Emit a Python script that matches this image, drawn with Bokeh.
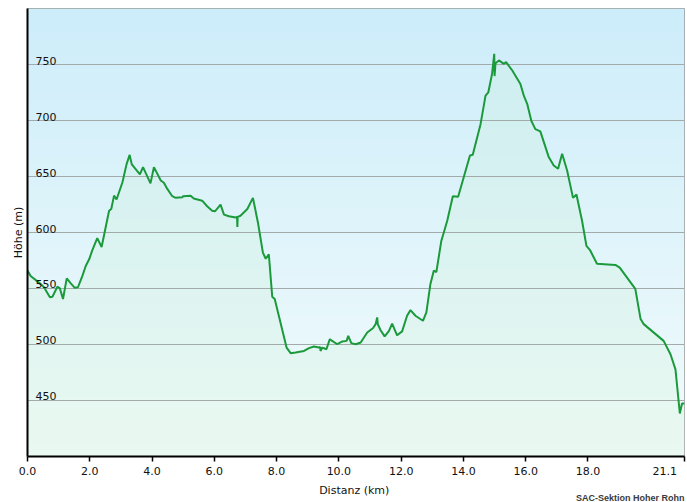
import numpy as np
from bokeh.plotting import figure
from bokeh.models import FixedTicker, Range1d, Title
from bokeh.core.properties import value
from bokeh.embed import file_html
from bokeh.resources import INLINE

# ---- data ----
dist_km = [0.0, 0.10, 0.42, 0.53, 0.72, 0.80, 0.96, 1.04, 1.14, 1.26, 1.39, 1.52, 1.62, 1.76, 1.87, 1.98,
           2.08, 2.24, 2.38, 2.62, 2.69, 2.78, 2.86, 3.05, 3.18, 3.28, 3.35, 3.61, 3.71, 3.95, 4.06, 4.28,
           4.38, 4.49, 4.65, 4.76, 4.97, 5.00, 5.24, 5.34, 5.61, 5.77, 5.93, 6.02, 6.20, 6.31, 6.47, 6.68,
           6.73, 6.74, 6.75, 6.84, 7.06, 7.24, 7.40, 7.56, 7.65, 7.75, 7.86, 7.94, 8.32, 8.45, 8.61, 8.88,
           9.04, 9.20, 9.36, 9.40, 9.41, 9.47, 9.60, 9.71, 9.76, 9.95, 10.11, 10.25, 10.30, 10.40, 10.54,
           10.70, 10.91, 11.10, 11.18, 11.23, 11.25, 11.34, 11.47, 11.61, 11.71, 11.87, 12.03, 12.19, 12.30,
           12.46, 12.70, 12.81, 12.94, 13.05, 13.13, 13.29, 13.37, 13.48, 13.66, 13.83, 14.01, 14.21, 14.30,
           14.55, 14.71, 14.80, 14.92, 14.99, 15.00, 15.03, 15.14, 15.30, 15.37, 15.57, 15.83, 15.94, 16.05,
           16.18, 16.31, 16.47, 16.74, 16.90, 17.04, 17.17, 17.33, 17.52, 17.63, 17.81, 17.95, 18.06, 18.29,
           18.88, 19.02, 19.52, 19.69, 19.79, 20.43, 20.65, 20.81, 20.95, 21.02, 21.10]
elev_m = [566, 561, 554, 551, 542, 542.5, 551.5, 550, 540.5, 559, 554.5, 550.5, 551, 561, 570, 576,
          584, 595, 587, 619.5, 621, 633, 629.5, 645, 661, 669.5, 661, 652, 658.5, 644, 658.5, 646.5,
          644.5, 639, 632.5, 631, 631.5, 632.5, 633, 630.5, 628.5, 623.5, 619.5, 619, 625, 616, 614.5, 613.5,
          614, 605, 614, 615, 621, 631, 609, 582, 576.5, 580.5, 542.5, 540.5, 497, 492, 492.5, 494,
          496.5, 498, 497, 497.5, 494, 497, 495.5, 504.5, 503.5, 500, 502.5, 503, 507.5, 501, 500,
          501.5, 510.5, 514.5, 518, 524, 518, 512.5, 507, 512, 518.5, 508, 511.5, 525.5, 530.5,
          525.5, 521, 528.5, 554, 566, 564.5, 592.5, 600, 610.5, 632.5, 632, 649.5, 669, 669.5,
          697, 722.5, 725.5, 742, 760, 740, 751.5, 754, 751, 752.5, 745, 733, 722.5, 715,
          700, 692.5, 690.5, 667.5, 660, 657, 670.5, 655.5, 631, 634, 610.5, 588, 584.5, 572,
          571, 568.5, 549.5, 522.5, 518, 503, 491, 477.5, 438, 447, 447]
assert len(dist_km) == len(elev_m)

x_ticks = [0, 2, 4, 6, 8, 10, 12, 14, 16, 18, 21.1]
x_tick_labels = ["0.0", "2.0", "4.0", "6.0", "8.0", "10.0", "12.0", "14.0", "16.0", "18.0", "21.1"]
y_ticks = [450, 500, 550, 600, 650, 700, 750]
y_tick_labels = ["450", "500", "550", "600", "650", "700", "750"]
x_title = "Distanz  (km)"
y_title = "Höhe (m)"
credit = "SAC-Sektion Hoher Rohn"

X0, X1 = 0.0, 21.1
Y0, Y1 = 399.5, 800.5
FONT = "DejaVu Sans"
TXT = "#111111"
NBSP = "\u00a0"

p = figure(width=687, height=502, x_range=Range1d(X0, X1), y_range=Range1d(Y0, Y1),
           output_backend="svg", toolbar_location=None,
           min_border_left=27, min_border_right=3, min_border_top=8, min_border_bottom=46)
p.background_fill_color = "#f0fafc"
p.border_fill_color = "white"
p.outline_line_color = "#9a9a9a"
p.outline_line_width = 1

# background vertical gradient (light sky blue -> almost white)
n = 300
t = np.linspace(0, 1, n)[:, None]  # row 0 = bottom
top_c = np.array([205, 237, 250])
bot_c = np.array([243, 252, 252])
rgb = (bot_c * (1 - t) + top_c * t).astype(np.uint32)
img = np.empty((n, 1), dtype=np.uint32)
view = img.view(dtype=np.uint8).reshape((n, 1, 4))
view[:, 0, 0] = rgb[:, 0]
view[:, 0, 1] = rgb[:, 1]
view[:, 0, 2] = rgb[:, 2]
view[:, 0, 3] = 255
p.image_rgba(image=[img], x=X0, y=Y0, dw=X1 - X0, dh=Y1 - Y0, level="image")

# area under profile (pale green tint)
p.varea(x=dist_km, y1=Y0, y2=elev_m, fill_color="#c8f2cd", fill_alpha=0.2, level="image")

# profile line
p.line(dist_km, elev_m, line_color="#1b9a3c", line_width=2)

# x axis; last label padded with no-break spaces so it ends at the axis end
overrides = {}
for t_, lab in zip(x_ticks, x_tick_labels):
    overrides[t_] = lab + NBSP * 3 if t_ == x_ticks[-1] else lab
p.xaxis.ticker = FixedTicker(ticks=x_ticks)
p.xaxis.major_label_overrides = overrides
p.xaxis.minor_tick_line_color = None
p.xaxis.major_tick_out = 5
p.xaxis.major_tick_in = 0
p.xaxis.major_tick_line_width = 1.5
p.xaxis.major_tick_line_color = "black"
p.xaxis.axis_line_width = 2
p.xaxis.axis_line_color = "black"
p.xaxis.major_label_standoff = 3
p.xaxis.major_label_text_font = FONT
p.xaxis.major_label_text_font_size = "11px"
p.xaxis.major_label_text_color = TXT
p.xaxis.axis_label = x_title
p.xaxis.axis_label_text_font = FONT
p.xaxis.axis_label_text_font_size = "11px"
p.xaxis.axis_label_text_font_style = "normal"
p.xaxis.axis_label_text_color = TXT
p.xaxis.axis_label_standoff = 3

# credit line under the chart, right aligned at the axis end
p.add_layout(Title(text=credit, align="right", vertical_align="top", standoff=-14,
                   text_font="Liberation Sans", text_font_size="9px",
                   text_font_style="bold", text_color="#3a3a3a"), "below")

# y axis: line and title only; gridlines at the ticks
p.yaxis.ticker = FixedTicker(ticks=[])
p.yaxis.major_tick_out = 0
p.yaxis.major_tick_in = 0
p.yaxis.minor_tick_line_color = None
p.yaxis.axis_line_width = 2
p.yaxis.axis_line_color = "black"
p.yaxis.axis_label = y_title
p.yaxis.axis_label_text_font = FONT
p.yaxis.axis_label_text_font_size = "11px"
p.yaxis.axis_label_text_font_style = "normal"
p.yaxis.axis_label_text_color = TXT
p.yaxis.axis_label_standoff = 3

p.xgrid.grid_line_color = None
p.ygrid.ticker = FixedTicker(ticks=y_ticks)
p.ygrid.grid_line_color = "#a3aaaa"
p.ygrid.grid_line_width = 1

# y tick labels drawn inside the plot, above each gridline
p.text(x=[X0] * len(y_ticks), y=y_ticks, text=y_tick_labels, x_offset=8,
       text_baseline="bottom", text_align="left", text_font=value(FONT),
       text_font_size="11px", text_color=TXT)

open("out.html", "w").write(file_html(p, INLINE))
